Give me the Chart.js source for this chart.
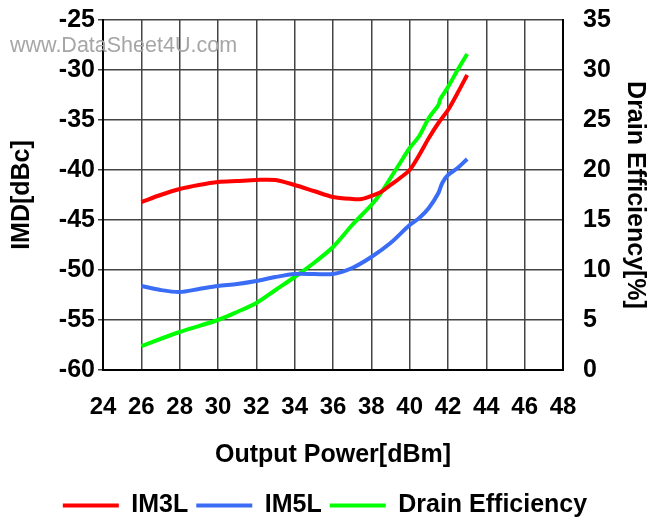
<!DOCTYPE html>
<html>
<head>
    <meta charset="UTF-8">
    <title>IMD / Drain Efficiency</title>
    <style>
        body { margin: 0; background: #ffffff; overflow: hidden; }
        #wrap { position: relative; width: 650px; height: 518px; }
        #marca {
            position: absolute; left: 10px; top: 33px;
            font-family: 'Liberation Sans', Arial, sans-serif;
            font-size: 21.5px; color: #a6a6a6;
        }
    </style>
    <script src="https://cdn.jsdelivr.net/npm/chart.js"></script>
</head>
<body>
    <div id="wrap">
        <canvas id="grafico" width="650" height="518"></canvas>
        <div id="marca">www.DataSheet4U.com</div>
    </div>

    <script>
        // potencia de saida [dBm] e valores
        var im3Pot = [26, 27, 28, 29, 30, 31, 32, 33, 34, 35, 36, 37, 37.5, 38, 38.5, 39, 39.5, 40, 40.5, 41, 41.5, 42, 42.5, 43];
        var im3Val = [-43.2, -42.5, -41.9, -41.5, -41.2, -41.1, -41.0, -41.0, -41.5, -42.1, -42.7, -42.9, -42.9, -42.6, -42.2, -41.5, -40.8, -40.0, -38.5, -36.8, -35.3, -34.0, -32.3, -30.5];

        var im5Pot = [26, 27, 28, 29, 30, 31, 32, 33, 34, 35, 36, 37, 38, 39, 40, 40.5, 41, 41.5, 41.7, 42, 42.5, 43];
        var im5Val = [-51.6, -52.0, -52.2, -51.9, -51.6, -51.4, -51.1, -50.7, -50.4, -50.4, -50.4, -49.8, -48.7, -47.3, -45.5, -44.8, -43.8, -42.3, -41.3, -40.5, -39.8, -38.9];

        var efPot = [26, 28, 30, 31, 32, 33, 34, 35, 36, 37, 38, 38.5, 39, 39.5, 40, 40.5, 41, 41.5, 41.6, 42, 42.5, 43];
        var efVal = [2.4, 3.8, 5.0, 5.8, 6.7, 8.0, 9.3, 10.7, 12.3, 14.5, 16.5, 17.7, 19.2, 20.7, 22.2, 23.4, 25.2, 26.5, 27.1, 28.3, 30.0, 31.6];

        var fonte = "'Liberation Sans', Arial, sans-serif";

        function pontos(xs, ys) {
            return xs.map(function (x, i) { return { x: x, y: ys[i] }; });
        }

        var ctx = document.getElementById('grafico').getContext('2d');

        new Chart(ctx, {
            type: 'line',
            data: {
                datasets: [{
                    label: 'IM3L',
                    data: pontos(im3Pot, im3Val),
                    borderColor: '#ff0000',
                    backgroundColor: '#ff0000',
                    borderWidth: 4,
                    pointRadius: 0,
                    tension: 0.3,
                    yAxisID: 'y'
                }, {
                    label: 'IM5L',
                    data: pontos(im5Pot, im5Val),
                    borderColor: '#3a6cf6',
                    backgroundColor: '#3a6cf6',
                    borderWidth: 4,
                    pointRadius: 0,
                    tension: 0.3,
                    yAxisID: 'y'
                }, {
                    label: 'Drain Efficiency',
                    data: pontos(efPot, efVal),
                    borderColor: '#00ff00',
                    backgroundColor: '#00ff00',
                    borderWidth: 4,
                    pointRadius: 0,
                    tension: 0.3,
                    yAxisID: 'y1'
                }]
            },
            options: {
                responsive: false,
                animation: false,
                layout: { padding: { top: 20, left: 0, right: 0, bottom: 0 } },
                plugins: {
                    tooltip: { enabled: false },
                    legend: {
                        position: 'bottom',
                        maxHeight: 33,
                        labels: {
                            usePointStyle: true,
                            pointStyle: 'line',
                            pointStyleWidth: 56,
                            padding: 8,
                            color: '#000',
                            font: { family: fonte, size: 25, weight: 'bold' }
                        }
                    }
                },
                scales: {
                    x: {
                        type: 'linear',
                        min: 24,
                        max: 48,
                        afterFit: function (s) { s.height = 115; },
                        ticks: {
                            stepSize: 2,
                            color: '#000',
                            padding: 23,
                            maxRotation: 0,
                            font: { family: fonte, size: 24, weight: 'bold' }
                        },
                        grid: { color: '#444', lineWidth: 1.5, tickLength: 0 },
                        border: { color: '#000', width: 2 },
                        title: {
                            display: true,
                            text: 'Output Power[dBm]',
                            color: '#000',
                            padding: { top: 0, bottom: 15 },
                            font: { family: fonte, size: 25, weight: 'bold' }
                        }
                    },
                    y: {
                        position: 'left',
                        min: -60,
                        max: -25,
                        afterFit: function (s) { s.width = 103; },
                        ticks: {
                            stepSize: 5,
                            color: '#000',
                            padding: 3,
                            font: { family: fonte, size: 25, weight: 'bold' }
                        },
                        grid: { color: '#444', lineWidth: 1.5, tickLength: 5 },
                        border: { color: '#000', width: 2 },
                        title: {
                            display: true,
                            text: 'IMD[dBc]',
                            color: '#000',
                            padding: { top: 7, bottom: 0 },
                            font: { family: fonte, size: 25, weight: 'bold' }
                        }
                    },
                    y1: {
                        position: 'right',
                        min: 0,
                        max: 35,
                        afterFit: function (s) { s.width = 87; },
                        ticks: {
                            stepSize: 5,
                            color: '#000',
                            padding: 0,
                            font: { family: fonte, size: 25, weight: 'bold' }
                        },
                        grid: { drawOnChartArea: false, tickColor: 'rgba(0,0,0,0)', tickLength: 20 },
                        border: { color: '#000', width: 2 },
                        title: {
                            display: true,
                            text: 'Drain Efficiency[%]',
                            color: '#000',
                            padding: { top: 0, bottom: 0 },
                            font: { family: fonte, size: 25, weight: 'bold' }
                        }
                    }
                }
            }
        });
    </script>
</body>
</html>
